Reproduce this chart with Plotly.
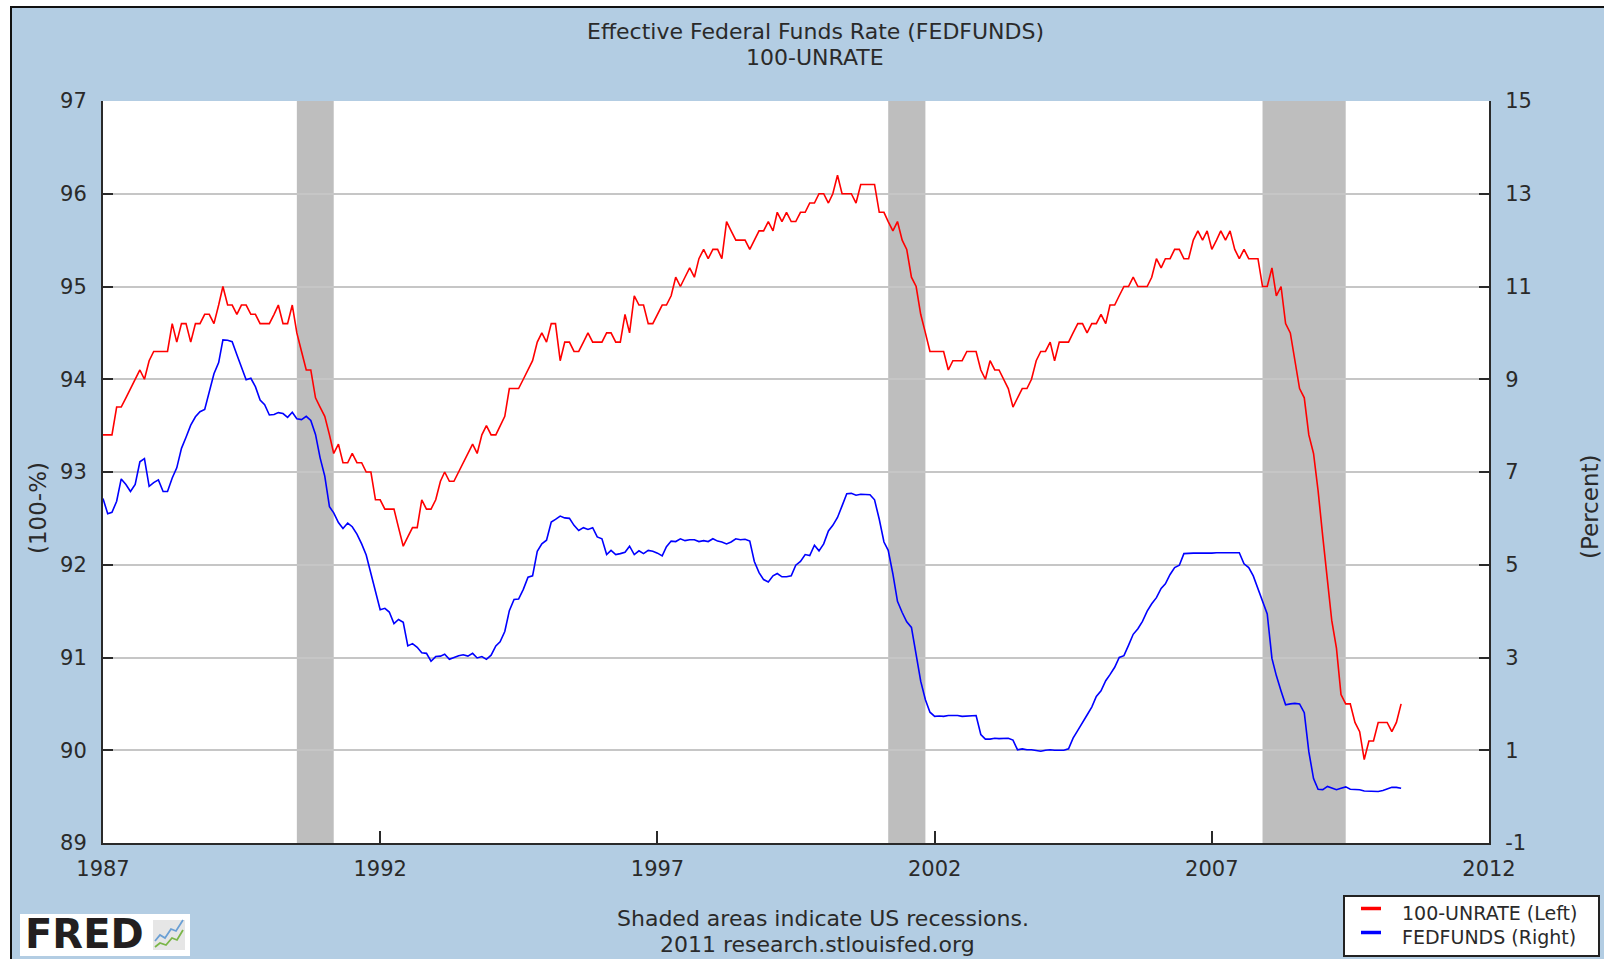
import plotly.graph_objects as go
import pandas as pd

# ---------------- data ----------------
start_month = "1987-01-01"
unrate = [
    6.6, 6.6, 6.6, 6.3, 6.3, 6.2, 6.1, 6.0, 5.9, 6.0, 5.8, 5.7,   # 1987
    5.7, 5.7, 5.7, 5.4, 5.6, 5.4, 5.4, 5.6, 5.4, 5.4, 5.3, 5.3,   # 1988
    5.4, 5.2, 5.0, 5.2, 5.2, 5.3, 5.2, 5.2, 5.3, 5.3, 5.4, 5.4,   # 1989
    5.4, 5.3, 5.2, 5.4, 5.4, 5.2, 5.5, 5.7, 5.9, 5.9, 6.2, 6.3,   # 1990
    6.4, 6.6, 6.8, 6.7, 6.9, 6.9, 6.8, 6.9, 6.9, 7.0, 7.0, 7.3,   # 1991
    7.3, 7.4, 7.4, 7.4, 7.6, 7.8, 7.7, 7.6, 7.6, 7.3, 7.4, 7.4,   # 1992
    7.3, 7.1, 7.0, 7.1, 7.1, 7.0, 6.9, 6.8, 6.7, 6.8, 6.6, 6.5,   # 1993
    6.6, 6.6, 6.5, 6.4, 6.1, 6.1, 6.1, 6.0, 5.9, 5.8, 5.6, 5.5,   # 1994
    5.6, 5.4, 5.4, 5.8, 5.6, 5.6, 5.7, 5.7, 5.6, 5.5, 5.6, 5.6,   # 1995
    5.6, 5.5, 5.5, 5.6, 5.6, 5.3, 5.5, 5.1, 5.2, 5.2, 5.4, 5.4,   # 1996
    5.3, 5.2, 5.2, 5.1, 4.9, 5.0, 4.9, 4.8, 4.9, 4.7, 4.6, 4.7,   # 1997
    4.6, 4.6, 4.7, 4.3, 4.4, 4.5, 4.5, 4.5, 4.6, 4.5, 4.4, 4.4,   # 1998
    4.3, 4.4, 4.2, 4.3, 4.2, 4.3, 4.3, 4.2, 4.2, 4.1, 4.1, 4.0,   # 1999
    4.0, 4.1, 4.0, 3.8, 4.0, 4.0, 4.0, 4.1, 3.9, 3.9, 3.9, 3.9,   # 2000
    4.2, 4.2, 4.3, 4.4, 4.3, 4.5, 4.6, 4.9, 5.0, 5.3, 5.5, 5.7,   # 2001
    5.7, 5.7, 5.7, 5.9, 5.8, 5.8, 5.8, 5.7, 5.7, 5.7, 5.9, 6.0,   # 2002
    5.8, 5.9, 5.9, 6.0, 6.1, 6.3, 6.2, 6.1, 6.1, 6.0, 5.8, 5.7,   # 2003
    5.7, 5.6, 5.8, 5.6, 5.6, 5.6, 5.5, 5.4, 5.4, 5.5, 5.4, 5.4,   # 2004
    5.3, 5.4, 5.2, 5.2, 5.1, 5.0, 5.0, 4.9, 5.0, 5.0, 5.0, 4.9,   # 2005
    4.7, 4.8, 4.7, 4.7, 4.6, 4.6, 4.7, 4.7, 4.5, 4.4, 4.5, 4.4,   # 2006
    4.6, 4.5, 4.4, 4.5, 4.4, 4.6, 4.7, 4.6, 4.7, 4.7, 4.7, 5.0,   # 2007
    5.0, 4.8, 5.1, 5.0, 5.4, 5.5, 5.8, 6.1, 6.2, 6.6, 6.8, 7.2,   # 2008
    7.7, 8.2, 8.6, 8.9, 9.4, 9.5, 9.5, 9.7, 9.8, 10.1, 9.9, 9.9,  # 2009
    9.7, 9.7, 9.7, 9.8, 9.7, 9.5,                                 # 2010
]
fedfunds = [
    6.43, 6.10, 6.13, 6.37, 6.85, 6.73, 6.58, 6.73, 7.22, 7.29, 6.69, 6.77,  # 1987
    6.83, 6.58, 6.58, 6.87, 7.09, 7.51, 7.75, 8.01, 8.19, 8.30, 8.35, 8.76,  # 1988
    9.12, 9.36, 9.85, 9.84, 9.81, 9.53, 9.24, 8.99, 9.02, 8.84, 8.55, 8.45,  # 1989
    8.23, 8.24, 8.28, 8.26, 8.18, 8.29, 8.15, 8.13, 8.20, 8.11, 7.81, 7.31,  # 1990
    6.91, 6.25, 6.12, 5.91, 5.78, 5.90, 5.82, 5.66, 5.45, 5.21, 4.81, 4.43,  # 1991
    4.03, 4.06, 3.98, 3.73, 3.82, 3.76, 3.25, 3.30, 3.22, 3.10, 3.09, 2.92,  # 1992
    3.02, 3.03, 3.07, 2.96, 3.00, 3.04, 3.06, 3.03, 3.09, 2.99, 3.02, 2.96,  # 1993
    3.05, 3.25, 3.34, 3.56, 4.01, 4.25, 4.26, 4.47, 4.73, 4.76, 5.29, 5.45,  # 1994
    5.53, 5.92, 5.98, 6.05, 6.01, 6.00, 5.85, 5.74, 5.80, 5.76, 5.80, 5.60,  # 1995
    5.56, 5.22, 5.31, 5.22, 5.24, 5.27, 5.40, 5.22, 5.30, 5.24, 5.31, 5.29,  # 1996
    5.25, 5.19, 5.39, 5.51, 5.50, 5.56, 5.52, 5.54, 5.54, 5.50, 5.52, 5.50,  # 1997
    5.56, 5.51, 5.49, 5.45, 5.49, 5.56, 5.54, 5.55, 5.51, 5.07, 4.83, 4.68,  # 1998
    4.63, 4.76, 4.81, 4.74, 4.74, 4.76, 4.99, 5.07, 5.22, 5.20, 5.42, 5.30,  # 1999
    5.45, 5.73, 5.85, 6.02, 6.27, 6.53, 6.54, 6.50, 6.52, 6.51, 6.51, 6.40,  # 2000
    5.98, 5.49, 5.31, 4.80, 4.21, 3.97, 3.77, 3.65, 3.07, 2.49, 2.09, 1.82,  # 2001
    1.73, 1.74, 1.73, 1.75, 1.75, 1.75, 1.73, 1.74, 1.75, 1.75, 1.34, 1.24,  # 2002
    1.24, 1.26, 1.25, 1.26, 1.26, 1.22, 1.01, 1.03, 1.01, 1.01, 1.00, 0.98,  # 2003
    1.00, 1.01, 1.00, 1.00, 1.00, 1.03, 1.26, 1.43, 1.61, 1.76, 1.93, 2.16,  # 2004
    2.28, 2.50, 2.63, 2.79, 3.00, 3.04, 3.26, 3.50, 3.62, 3.78, 4.00, 4.16,  # 2005
    4.29, 4.49, 4.59, 4.79, 4.94, 4.99, 5.24, 5.25, 5.25, 5.25, 5.25, 5.24,  # 2006
    5.25, 5.26, 5.26, 5.25, 5.25, 5.25, 5.26, 5.02, 4.94, 4.76, 4.49, 4.24,  # 2007
    3.94, 2.98, 2.61, 2.28, 1.98, 2.00, 2.01, 2.00, 1.81, 0.97, 0.39, 0.16,  # 2008
    0.15, 0.22, 0.18, 0.15, 0.18, 0.21, 0.16, 0.16, 0.15, 0.12, 0.12, 0.12,  # 2009
    0.11, 0.13, 0.16, 0.20, 0.20, 0.18,                                      # 2010
]
recession_starts = ["1990-07-01", "2001-03-01", "2007-12-01"]
recession_ends = ["1991-03-01", "2001-11-01", "2009-06-01"]
left_ticks = [89, 90, 91, 92, 93, 94, 95, 96, 97]
right_ticks = [-1, 1, 3, 5, 7, 9, 11, 13, 15]
right_tick_text = ["-1", "1", "3", "5", "7", "9", "11", "13", "15"]
x_tick_years = ["1987", "1992", "1997", "2002", "2007", "2012"]

dates = pd.date_range(start_month, periods=len(unrate), freq="MS")
hundred_minus_unrate = [round(100 - u, 1) for u in unrate]

# ---------------- geometry helpers ----------------
W, H = 1604, 959
ML, MR, MT, MB = 103, 115, 101, 116
PW, PH = W - ML - MR, H - MT - MB


def px(x):
    return (x - ML) / PW


def py(y):
    return (H - MB - y) / PH


FONT = "DejaVu Sans, Verdana, sans-serif"
BG = "#B3CDE3"
TXT = "#2a2a2a"

fig = go.Figure()
fig.add_trace(go.Scatter(x=dates, y=hundred_minus_unrate, mode="lines",
                         line=dict(color="#FF0000", width=1.6),
                         name="100-UNRATE (Left)", yaxis="y", showlegend=False))
fig.add_trace(go.Scatter(x=dates, y=fedfunds, mode="lines",
                         line=dict(color="#0000FF", width=1.6),
                         name="FEDFUNDS (Right)", yaxis="y2", showlegend=False))

shapes = []
for s, e in zip(recession_starts, recession_ends):
    shapes.append(dict(type="rect", xref="x", yref="paper", x0=s, x1=e, y0=0, y1=1,
                       fillcolor="#BEBEBE", line=dict(width=0), layer="between"))

# page frame: white strips + black border line
shapes.append(dict(type="rect", xref="paper", yref="paper", x0=px(-5), x1=px(W + 5),
                   y0=py(6), y1=py(-5), fillcolor="white", line=dict(width=0), layer="above"))
shapes.append(dict(type="rect", xref="paper", yref="paper", x0=px(-5), x1=px(10),
                   y0=py(H + 5), y1=py(-5), fillcolor="white", line=dict(width=0), layer="above"))
shapes.append(dict(type="line", xref="paper", yref="paper", x0=px(10), x1=px(W + 5),
                   y0=py(7), y1=py(7), line=dict(color="#111111", width=2), layer="above"))
shapes.append(dict(type="line", xref="paper", yref="paper", x0=px(11), x1=px(11),
                   y0=py(6), y1=py(H + 5), line=dict(color="#111111", width=2), layer="above"))

# legend box
shapes.append(dict(type="rect", xref="paper", yref="paper", x0=px(1344), x1=px(1599),
                   y0=py(956), y1=py(896), fillcolor="white",
                   line=dict(color="#222222", width=2), layer="above"))
shapes.append(dict(type="line", xref="paper", yref="paper", x0=px(1361), x1=px(1381),
                   y0=py(908.5), y1=py(908.5), line=dict(color="#FF0000", width=3.5), layer="above"))
shapes.append(dict(type="line", xref="paper", yref="paper", x0=px(1361), x1=px(1381),
                   y0=py(932.5), y1=py(932.5), line=dict(color="#0000FF", width=3.5), layer="above"))

# FRED logo box and icon
shapes.append(dict(type="rect", xref="paper", yref="paper", x0=px(20), x1=px(190),
                   y0=py(956), y1=py(914), fillcolor="white", line=dict(width=0), layer="above"))
shapes.append(dict(type="rect", xref="paper", yref="paper", x0=px(153), x1=px(185),
                   y0=py(950), y1=py(920), fillcolor="#E6E6E6", line=dict(width=0), layer="above"))


def poly(points):
    return "M " + " L ".join(f"{px(a):.5f},{py(b):.5f}" for a, b in points)


shapes.append(dict(type="path", xref="paper", yref="paper",
                   path=poly([(155, 941), (160, 935), (165, 938), (171, 929), (176, 931), (183, 920)]),
                   line=dict(color="#6A9FD4", width=1.8), layer="above"))
shapes.append(dict(type="path", xref="paper", yref="paper",
                   path=poly([(155, 947), (160, 943), (166, 945), (172, 938), (177, 940), (183, 930)]),
                   line=dict(color="#7AB648", width=1.8), layer="above"))

annotations = []


def ann(text, x, y, size, **kw):
    d = dict(text=text, xref="paper", yref="paper", x=px(x), y=py(y), showarrow=False,
             font=dict(family=kw.pop("family", FONT), size=size, color=kw.pop("color", TXT)),
             xanchor=kw.pop("xanchor", "center"), yanchor=kw.pop("yanchor", "middle"))
    d.update(kw)
    annotations.append(d)


ann("Effective Federal Funds Rate (FEDFUNDS)", 815, 31.5, 22)
ann("100-UNRATE", 815, 57.5, 22)
ann("(100-%)", 38, 508, 23, textangle=-90)
ann("(Percent)", 1590, 507, 23, textangle=-90)
ann("Shaded areas indicate US recessions.", 823, 918.5, 22)
ann("2011 research.stlouisfed.org", 817, 944, 22)
ann("100-UNRATE (Left)", 1400, 913, 19, xanchor="left")
ann("FEDFUNDS (Right)", 1400, 937, 19, xanchor="left")
ann("<b>FRED</b>", 84, 934, 40, family="DejaVu Sans, Liberation Sans, sans-serif", color="#231F20")

fig.update_layout(
    width=W, height=H,
    margin=dict(l=ML, r=MR, t=MT, b=MB, pad=0),
    paper_bgcolor=BG, plot_bgcolor="white",
    font=dict(family=FONT, color=TXT, size=21),
    showlegend=False,
    xaxis=dict(type="date", range=["1987-01-01", "2012-01-01"],
               tickvals=[f"{y}-01-01" for y in x_tick_years], ticktext=x_tick_years,
               ticks="inside", ticklen=12, tickwidth=2, tickcolor="#2a2a2a",
               showline=True, linecolor="#2a2a2a", linewidth=2, showgrid=False,
               zeroline=False, tickfont=dict(size=21), ticklabelstandoff=6),
    yaxis=dict(range=[89, 97], tickvals=left_ticks, ticks="inside", ticklen=10,
               tickwidth=2, tickcolor="#2a2a2a", showline=True, linecolor="#2a2a2a",
               linewidth=2, showgrid=True, gridcolor="#C6C6C6", gridwidth=2,
               zeroline=False, tickfont=dict(size=21), ticklabelstandoff=10),
    yaxis2=dict(range=[-1, 15], tickvals=right_ticks, ticktext=right_tick_text,
                overlaying="y", side="right",
                ticks="inside", ticklen=10, tickwidth=2, tickcolor="#2a2a2a",
                showline=True, linecolor="#2a2a2a", linewidth=2, showgrid=False,
                zeroline=False, tickfont=dict(size=21), ticklabelstandoff=10),
    shapes=shapes,
    annotations=annotations,
)

fig.write_html(
    "out.html",
    config={"displayModeBar": False},
    post_script="document.body.style.margin='0';document.body.style.overflow='hidden';",
)
